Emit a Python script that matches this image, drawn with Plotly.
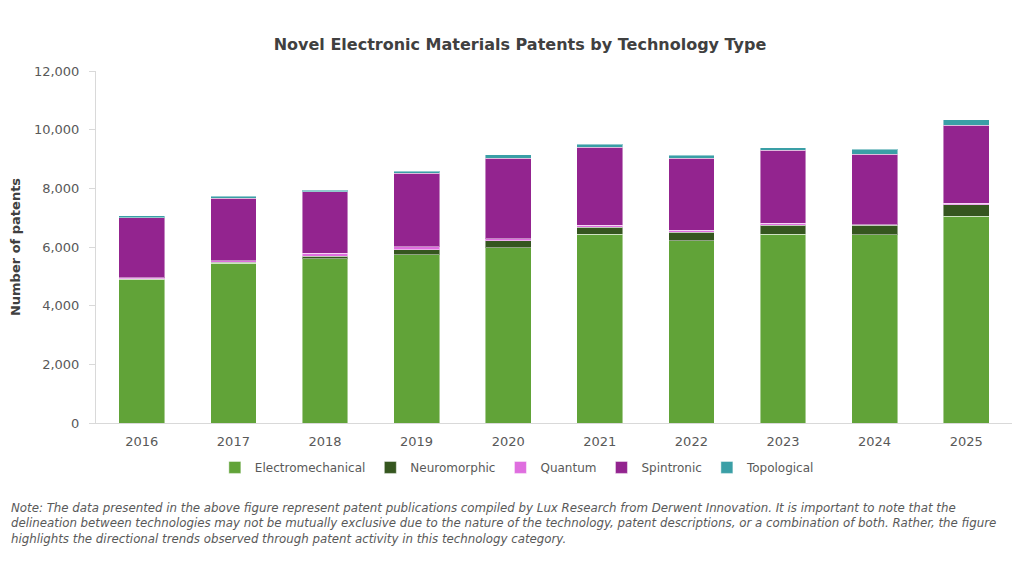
import plotly.graph_objects as go

# Patent counts per year, by technology type
years = ["2016", "2017", "2018", "2019", "2020", "2021", "2022", "2023", "2024", "2025"]
electromechanical = [4900, 5440, 5600, 5730, 5970, 6440, 6220, 6440, 6410, 7050]
neuromorphic = [15, 45, 90, 170, 250, 230, 285, 295, 330, 390]
quantum = [30, 45, 100, 115, 58, 65, 58, 68, 25, 45]
spintronic = [2060, 2136, 2096, 2500, 2750, 2672, 2457, 2491, 2399, 2662]
topological = [58, 58, 55, 68, 115, 92, 103, 93, 161, 194]

y_ticks = [0, 2000, 4000, 6000, 8000, 10000, 12000]

series = [
    ("Electromechanical", electromechanical, "#61a338"),
    ("Neuromorphic", neuromorphic, "#35561f"),
    ("Quantum", quantum, "#df6edf"),
    ("Spintronic", spintronic, "#93248f"),
    ("Topological", topological, "#3a9fa6"),
]

font = "DejaVu Sans"

fig = go.Figure()
for name, vals, color in series:
    fig.add_trace(go.Bar(
        x=years, y=vals, name=name,
        marker=dict(color=color, line=dict(color="rgba(255,255,255,0.45)", width=1)),
        width=0.5,
    ))

note = ("<i>Note: The data presented in the above figure represent patent publications compiled by Lux Research "
        "from Derwent Innovation. It is important to note that the<br>delineation between technologies may not be "
        "mutually exclusive due to the nature of the technology, patent descriptions, or a combination of both. "
        "Rather, the figure<br>highlights the directional trends observed through patent activity in this "
        "technology category.</i>")

# page body has an 8px margin, so the margins are trimmed to land the plot where the reference has it
fig.update_layout(
    barmode="stack",
    width=1024, height=575,
    paper_bgcolor="white", plot_bgcolor="white",
    margin=dict(l=88, r=20, t=63, b=160),
    font=dict(family=font, color="#595959", size=13),
    title=dict(text="<b>Novel Electronic Materials Patents by Technology Type</b>",
               x=0.5, xanchor="center", y=0.936, yanchor="middle",
               font=dict(size=16, color="#404040", family=font)),
    legend=dict(orientation="h", x=0.46, xanchor="center", y=-0.085, yanchor="top",
                font=dict(size=12, color="#595959"), traceorder="normal",
                itemwidth=30, tracegroupgap=0),
    bargap=0.5,
    annotations=[dict(text=note, xref="paper", yref="paper", x=-0.095, y=-0.215,
                      xanchor="left", yanchor="top", align="left", showarrow=False,
                      font=dict(size=11.8, color="#595959", family=font))],
)

fig.update_xaxes(showline=True, linecolor="#d9d9d9", linewidth=1, ticks="",
                 ticklabelstandoff=6,
                 tickfont=dict(size=13, color="#595959"), showgrid=False)
fig.update_yaxes(range=[0, 12000], tickvals=y_ticks, tickformat=",", showgrid=False,
                 automargin=False,
                 showline=True, linecolor="#d9d9d9", linewidth=1, ticks="outside",
                 ticklen=6, tickcolor="#d9d9d9", ticklabelstandoff=7,
                 tickfont=dict(size=13, color="#595959"),
                 title=dict(text="<b>Number of patents</b>", standoff=12,
                            font=dict(size=13, color="#404040")))

fig.write_html("out.html")
